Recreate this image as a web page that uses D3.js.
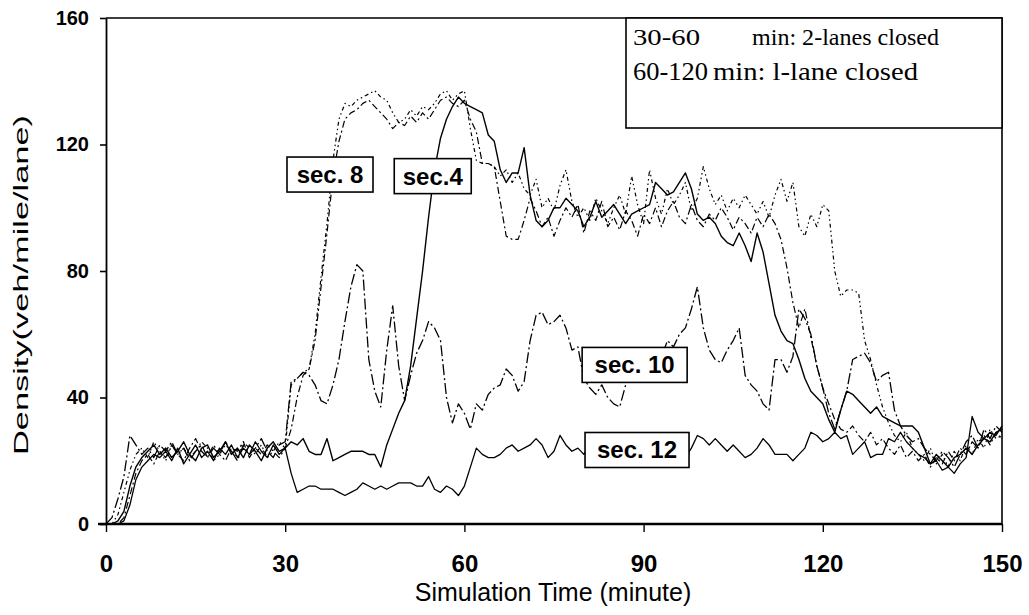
<!DOCTYPE html>
<html>
<head>
<meta charset="utf-8">
<script src="https://cdn.jsdelivr.net/npm/d3@7"></script>
<style>
  body { margin: 0; background: #fff; }
  svg { font-family: "Liberation Sans", Arial, sans-serif; }
  .legendText { font-family: "Liberation Serif", "Times New Roman", serif; }
</style>
</head>
<body>
<script>
// simulation minutes 0..150, one sample per minute
var minutes = d3.range(0, 151);

var sec4 = [0,0,1,4,12,18,21,23,25,22,24,21,23,26,22,20,24,25,21,23,26,22,24,21,25,23,20,24,26,23,24,
  26,25,27,23,22,22,27,20,21,22,23,23,23,22,22,18,25,30,35,39,50,65,80,97,112,122,128,132,135,133,
  132,131,130,123,121,112,108,111,111,119,104,96,94,96,100,100,103,101,99,94,97,102,97,99,101,98,95,98,99,100,
  101,108,106,104,105,108,111,106,98,96,97,95,91,89,88,92,88,83,92,86,76,66,61,58,57,52,46,42,40,38,
  33,29,36,42,41,39,37,35,37,34,33,32,31,31,31,29,24,19,22,20,18,21,22,24,22,25,27,26,29,30];

var sec6 = [0,0,0,2,9,16,20,22,19,23,21,25,22,20,24,27,23,21,25,22,20,24,23,26,21,24,22,25,23,21,24,
  30,40,47,49,58,75,92,110,121,128,130,131,133,134,132,130,128,125,127,126,129,127,130,128,131,134,135,133,132,134,
  128,124,114,114,113,102,91,90,90,96,103,99,94,97,91,96,100,97,101,92,99,96,102,94,97,93,99,96,91,98,
  95,100,94,99,102,97,95,101,96,94,98,96,100,97,93,97,95,92,97,94,98,95,90,81,70,62,68,59,50,43,
  38,33,30,29,31,28,26,29,25,27,24,22,25,21,23,20,22,18,21,19,23,20,24,22,26,24,28,25,29,27];

var sec8 = [0,0,3,10,17,22,24,21,26,23,20,25,22,24,21,23,26,24,20,22,25,23,21,26,24,22,25,21,23,26,24,
  44,46,48,49,60,78,95,115,128,133,132,134,135,136,137,135,134,130,127,128,131,129,132,131,133,136,137,134,136,137,
  125,115,114,114,113,110,112,108,111,106,104,109,100,103,99,107,112,102,97,100,96,103,99,95,100,104,98,110,101,95,
  112,103,98,106,101,104,108,99,103,113,106,101,104,99,103,100,104,101,98,102,97,104,109,102,108,94,91,98,94,101,
  99,80,72,74,74,73,58,52,44,37,32,28,26,29,24,22,20,24,19,22,18,23,20,25,22,27,24,30,27,28];

var sec10 = [0,2,8,15,28,25,22,24,21,25,23,26,22,24,20,23,25,21,24,22,26,23,20,25,22,24,27,23,21,25,26,
  45,46,48,47,44,39,38,44,52,64,75,82,80,52,42,37,55,69,50,39,47,54,58,64,62,58,40,32,38,35,
  30,38,36,41,43,44,49,47,42,45,58,66,67,63,64,66,62,55,56,46,43,41,44,40,38,37,44,49,46,52,
  48,55,53,58,56,60,62,68,75,62,55,52,51,55,58,62,47,44,42,38,36,52,52,48,53,68,65,60,50,43,
  35,30,36,42,52,53,54,51,45,47,48,36,31,28,26,27,24,22,20,23,21,18,22,26,28,24,30,27,31,29];

var sec12 = [0,0,0,1,6,14,18,20,22,21,23,20,24,19,22,25,21,23,20,24,22,25,21,24,22,26,23,21,25,22,24,
  16,10,11,12,12,11,11,11,10,9,10,11,13,12,11,12,11,12,13,13,13,12,12,15,11,10,12,11,9,12,
  18,24,22,21,21,22,24,25,23,24,25,27,25,21,23,28,25,23,24,22,25,28,23,21,25,27,22,26,24,21,
  26,28,22,25,27,23,21,24,28,27,25,27,25,23,25,23,21,22,24,27,25,22,22,22,20,22,24,29,28,26,
  27,29,27,28,22,24,26,21,22,22,27,26,29,26,24,22,21,19,20,17,18,16,19,21,34,29,27,29,28,31];

var seriesNames = ['sec4', 'sec6', 'sec8', 'sec10', 'sec12'];
var seriesValues = [sec4, sec6, sec8, sec10, sec12];
var seriesDash = [null, '7,3,2,3', '4,3,1.5,3,1.5,3', '11,3,2,3', null];
var seriesWidth = [1.4, 1.2, 1.2, 1.3, 1.3];

var xTicks = [0, 30, 60, 90, 120, 150];
var yTicks = [0, 40, 80, 120, 160];

// labels: text, minute of box centre, value of box centre
var labelText = ['sec. 8', 'sec.4', 'sec. 10', 'sec. 12'];
var labelMinute = [37.5, 54.7, 88.5, 88.9];
var labelValue = [110.5, 110, 50.3, 23.4];
var labelWidth = [86, 77, 105, 104];

var legendLines = [['30-60', 'min: 2-lanes closed'], ['60-120', 'min: l-lane closed']];

var width = 1029, height = 615;
var margin = {top: 18, right: 27, bottom: 91, left: 106};

var svg = d3.select('body').append('svg')
  .attr('width', width)
  .attr('height', height);

var x = d3.scaleLinear().domain([0, 150]).range([margin.left, width - margin.right]);
var y = d3.scaleLinear().domain([0, 160]).range([height - margin.bottom, margin.top]);

// frame top / right
svg.append('path')
  .attr('d', `M${x(0)},${y(160)}H${x(150)}V${y(0)}`)
  .attr('fill', 'none')
  .attr('stroke', '#000')
  .attr('stroke-width', 1.6);

var line = d3.line()
  .x((d, i) => x(minutes[i]))
  .y(d => y(d));

seriesValues.forEach(function(vals, k) {
  svg.append('path')
    .datum(vals)
    .attr('class', 'series ' + seriesNames[k])
    .attr('fill', 'none')
    .attr('stroke', '#000')
    .attr('stroke-width', seriesWidth[k])
    .attr('stroke-linejoin', 'round')
    .attr('stroke-dasharray', seriesDash[k])
    .attr('d', line);
});

var xAxis = d3.axisBottom(x)
  .tickValues(xTicks)
  .tickSize(8)
  .tickSizeOuter(0)
  .tickPadding(23);

var gx = svg.append('g')
  .attr('transform', `translate(0,${y(0)})`)
  .call(xAxis);
gx.select('.domain').attr('stroke-width', 2.6).attr('d', `M${x(0) - 8},0H${x(150)}`);
gx.selectAll('.tick line').attr('stroke-width', 1.4);
gx.selectAll('text')
  .style('font-size', '24px')
  .style('font-weight', 'bold')
  .attr('fill', '#000');

var yAxis = d3.axisLeft(y)
  .tickValues(yTicks)
  .tickSize(6)
  .tickSizeOuter(0)
  .tickPadding(11);

var gy = svg.append('g')
  .attr('transform', `translate(${x(0)},0)`)
  .call(yAxis);
gy.select('.domain').attr('stroke-width', 1.8);
gy.selectAll('.tick line').attr('stroke-width', 1.6);
gy.selectAll('text')
  .style('font-size', '20px')
  .style('font-weight', 'bold')
  .attr('fill', '#000');

svg.append('text')
  .attr('x', 553)
  .attr('y', 601)
  .attr('text-anchor', 'middle')
  .style('font-size', '25px')
  .text('Simulation Time (minute)');

svg.append('text')
  .attr('transform', `translate(28,285) rotate(-90)`)
  .attr('text-anchor', 'middle')
  .attr('textLength', 340)
  .attr('lengthAdjust', 'spacingAndGlyphs')
  .style('font-size', '21px')
  .text('Density(veh/mile/lane)');

// section labels
labelText.forEach(function(t, i) {
  var cx = x(labelMinute[i]), cy = y(labelValue[i]);
  svg.append('rect')
    .attr('x', cx - labelWidth[i] / 2)
    .attr('y', cy - 17.5)
    .attr('width', labelWidth[i])
    .attr('height', 35)
    .attr('fill', '#fff')
    .attr('stroke', '#000')
    .attr('stroke-width', 1.6);
  svg.append('text')
    .attr('x', cx)
    .attr('y', cy + 8.5)
    .attr('text-anchor', 'middle')
    .style('font-size', '24px')
    .style('font-weight', 'bold')
    .text(t);
});

// legend box
svg.append('rect')
  .attr('x', 626)
  .attr('y', y(160))
  .attr('width', x(150) - 626)
  .attr('height', 110)
  .attr('fill', '#fff')
  .attr('stroke', '#000')
  .attr('stroke-width', 1.6);

var legendX = [[633, 752], [633, 713]];
var legendLen = [[67, 187], [75, 205]];
var legendSize = [24, 26];
legendLines.forEach(function(parts, i) {
  parts.forEach(function(p, j) {
    svg.append('text')
      .attr('class', 'legendText')
      .attr('x', legendX[i][j])
      .attr('y', 45 + i * 35)
      .attr('textLength', legendLen[i][j])
      .attr('lengthAdjust', 'spacingAndGlyphs')
      .style('font-size', legendSize[i] + 'px')
      .text(p);
  });
});
</script>
</body>
</html>
